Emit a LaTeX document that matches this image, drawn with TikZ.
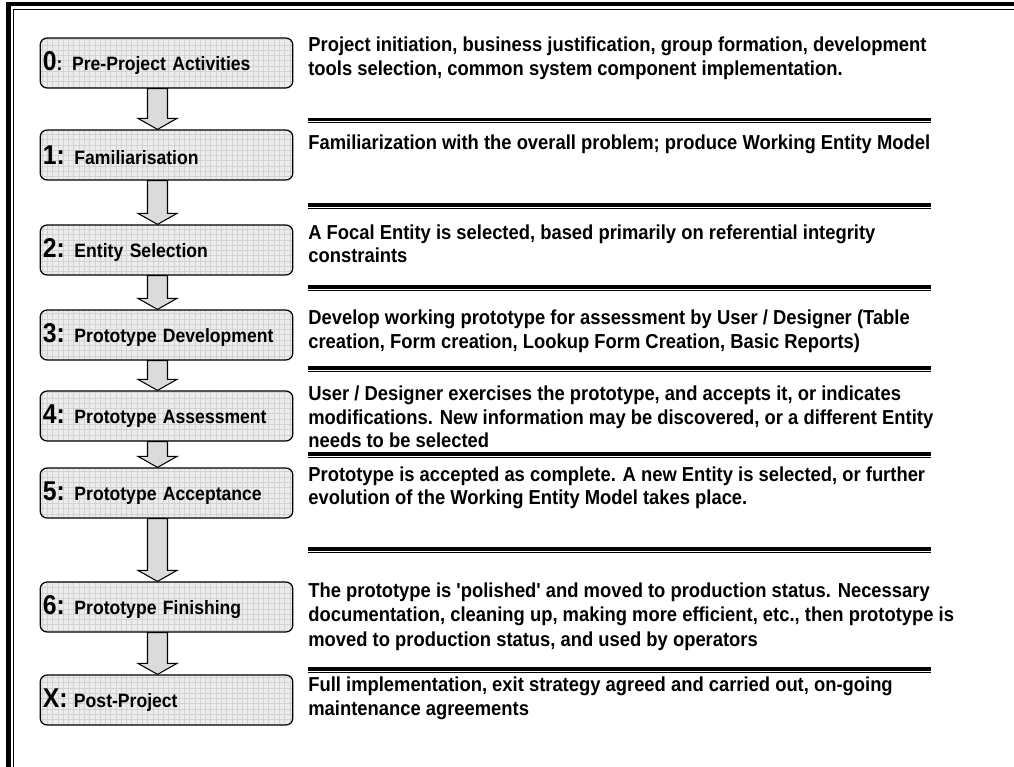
\documentclass[tikz,border=0pt]{standalone}
\usepackage{fontspec}
\newfontfamily\narrowsans{Liberation Sans}[FakeStretch=0.91]
\usepackage{tikz}
\usetikzlibrary{calc,patterns}
\newcommand{\num}[1]{{\fontsize{15.5}{15.5}\selectfont #1}}
% block arrow between two stage boxes
\newcommand{\blockarr}[2]{%
  \draw[blk] ($(#1.south)+(-19,0)$) -- ($(#2.north)+(-19,-11)$) -- ($(#2.north)+(-28.5,-11)$)
    -- ($(#2.north)+(-9,0)$) -- ($(#2.north)+(10.5,-11)$) -- ($(#2.north)+(1,-11)$)
    -- ($(#1.south)+(1,0)$) -- cycle;}

\begin{document}
\begin{tikzpicture}[x=0.02cm, y=-0.02cm,
  every node/.style={font=\narrowsans\bfseries\fontsize{11.5}{13.2}\selectfont},
  stage/.style={draw, line width=0.7pt, rounded corners=4pt, preaction={fill=gray!15},
    pattern=grid, pattern color=gray!35, minimum height=1cm, text width=4.95cm,
    inner xsep=1.5pt, align=left, font=\narrowsans\bfseries\fontsize{11}{13}\selectfont},
  note/.style={anchor=north west, align=left, inner sep=0pt},
  blk/.style={draw, fill=gray!28, line width=0.6pt}]
\useasboundingbox (0,0) rectangle (1014,767);
\clip (0,0) rectangle (1014,767);
% double frame
\draw[line width=2.3pt] (8.5,1200) |- (1200,4);
\draw[line width=0.8pt] (13.3,1200) |- (1200,9.3);

\node[stage] (s0) at (166.5,63) {\num{0}: Pre-Project Activities};
\node[stage] (s1) at (166.5,155) {\num{1:} Familiarisation};
\node[stage] (s2) at (166.5,250) {\num{2:} Entity Selection};
\node[stage] (s3) at (166.5,335) {\num{3:} Prototype Development};
\node[stage] (s4) at (166.5,416) {\num{4:} Prototype Assessment};
\node[stage] (s5) at (166.5,493) {\num{5:} Prototype Acceptance};
\node[stage] (s6) at (166.5,607) {\num{6:} Prototype Finishing};
\node[stage] (sx) at (166.5,700) {\num{X:} Post-Project};
\foreach \a/\b in {s0/s1,s1/s2,s2/s3,s3/s4,s4/s5,s5/s6,s6/sx} {\blockarr{\a}{\b}}

\node[note] (d0) at (308,37) {Project initiation, business justification, group formation, development\\
  tools selection, common system component implementation.};
\node[note] (d1) at (308,135) {Familiarization with the overall problem; produce Working Entity Model};
\node[note] (d2) at (308,224.5) {A Focal Entity is selected, based primarily on referential integrity\\constraints};
\node[note] (d3) at (308,310) {Develop working prototype for assessment by User / Designer (Table\\
  creation, Form creation, Lookup Form Creation, Basic Reports)};
\node[note] (d4) at (308,386) {User / Designer exercises the prototype, and accepts it, or indicates\\
  modifications. New information may be discovered, or a different Entity\\needs to be selected};
\node[note] (d5) at (308,466.5) {Prototype is accepted as complete. A new Entity is selected, or further\\
  evolution of the Working Entity Model takes place.};
\node[note, font=\narrowsans\bfseries\fontsize{11.5}{14}\selectfont] (d6) at (308,582)
  {The prototype is 'polished' and moved to production status. Necessary\\
  documentation, cleaning up, making more efficient, etc., then prototype is\\
  moved to production status, and used by operators};
\node[note] (dx) at (308,677) {Full implementation, exit strategy agreed and carried out, on-going\\
  maintenance agreements};

% double rules between the notes
\foreach \y in {119.5,205,287,368,454,549,669} {
  \draw[line width=2pt] (308,\y) -- (931,\y);
  \draw[line width=0.6pt] (308,\y+3.2) -- (931,\y+3.2);
}
\end{tikzpicture}
\end{document}
